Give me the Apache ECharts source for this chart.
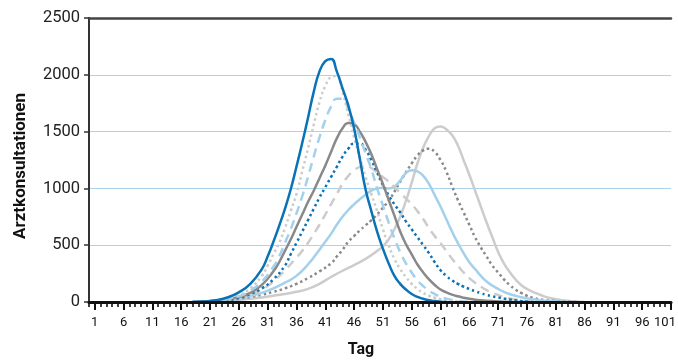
<!DOCTYPE html>
<html>
<head>
<meta charset="utf-8">
<script src="https://cdn.jsdelivr.net/npm/echarts@6/dist/echarts.min.js"></script>
<style>
  html, body { margin: 0; padding: 0; background: #fff; }
  #chart { width: 678px; height: 360px; }
</style>
</head>
<body>
<div id="chart"></div>
<script>
// Tage 0..101
const days = []
for (let d = 0; d <= 101; d++) days.push(String(d))

const yTicks = [0, 500, 1000, 1500, 2000, 2500]

// Kurven: [Tag, Arztkonsultationen]
const blueSolid = [[18,0],[20,5],[22,15],[24,40],[26,85],[28,160],[30,290],[31,400],[32,530],[33,670],[34,820],[35,990],[36,1190],[37,1400],[38,1620],[39,1850],[40,2030],[41,2120],[42,2140],[43,2030],[44,1880],[45,1730],[46,1530],[47,1260],[48,990],[49,800],[50,620],[51,470],[52,340],[53,230],[54,160],[55,110],[56,70],[57,45],[58,28],[59,15],[60,8],[61,3],[62,0]]
const grayDotted = [[18,0],[20,5],[22,15],[24,30],[26,60],[28,120],[30,230],[31,320],[32,420],[33,520],[34,650],[35,800],[36,950],[37,1150],[38,1350],[39,1560],[40,1760],[41,1900],[42,1980],[43,1990],[44,1850],[45,1650],[46,1450],[47,1270],[48,1100],[49,950],[50,800],[51,640],[52,500],[53,380],[54,290],[55,220],[56,160],[57,115],[58,80],[59,55],[60,38],[61,25],[62,15],[63,10],[64,6],[65,3],[66,0]]
const lightBlueDashed = [[18,0],[20,4],[22,12],[24,25],[26,50],[28,100],[30,180],[32,310],[33,400],[34,520],[35,640],[36,780],[37,930],[38,1100],[39,1280],[40,1450],[41,1600],[42,1720],[43,1790],[44,1790],[45,1700],[46,1580],[47,1450],[48,1310],[49,1170],[50,1000],[51,850],[52,700],[53,560],[54,440],[55,340],[56,260],[57,190],[58,140],[59,100],[60,70],[61,45],[62,30],[63,18],[64,10],[65,5],[66,0]]
const darkGraySolid = [[18,0],[20,5],[22,12],[24,25],[26,45],[28,80],[30,150],[32,270],[33,350],[34,450],[35,550],[36,660],[37,770],[38,880],[39,980],[40,1090],[41,1200],[42,1320],[43,1440],[44,1530],[45,1575],[46,1565],[47,1500],[48,1410],[49,1300],[50,1170],[51,1040],[52,900],[53,760],[54,620],[55,510],[56,420],[57,330],[58,260],[59,200],[60,150],[61,110],[62,85],[63,65],[64,50],[65,38],[66,28],[67,20],[68,15],[70,8],[72,3],[75,0]]
const blueDotted = [[18,0],[20,3],[22,8],[24,18],[26,35],[28,70],[30,120],[32,200],[34,320],[35,420],[36,520],[37,620],[38,720],[39,820],[40,920],[41,1010],[42,1100],[43,1190],[44,1280],[45,1350],[46,1395],[47,1395],[48,1340],[49,1250],[50,1140],[51,1030],[52,940],[53,860],[54,790],[55,710],[56,640],[57,570],[58,500],[59,430],[60,350],[61,280],[62,230],[63,190],[64,160],[65,135],[66,115],[67,95],[68,78],[69,62],[70,50],[71,40],[72,30],[73,22],[74,15],[75,8],[76,3],[77,0]]
const grayDashed = [[18,0],[20,3],[22,8],[24,18],[26,35],[28,65],[30,110],[32,180],[34,280],[36,390],[37,450],[38,520],[39,600],[40,680],[41,770],[42,860],[43,950],[44,1040],[45,1110],[46,1160],[47,1190],[48,1200],[49,1180],[50,1140],[51,1100],[52,1060],[53,1010],[54,960],[55,910],[56,860],[57,800],[58,730],[59,650],[60,580],[61,520],[62,450],[63,380],[64,320],[65,260],[66,210],[67,170],[68,135],[69,105],[70,80],[71,62],[72,45],[73,32],[74,22],[75,14],[76,8],[77,4],[78,0]]
const lightBlueSolid = [[18,0],[20,3],[22,8],[24,18],[26,35],[28,55],[30,80],[32,120],[34,170],[36,230],[38,330],[40,460],[41,530],[42,600],[43,680],[44,750],[45,810],[46,860],[47,905],[48,945],[49,980],[50,1000],[51,1005],[52,1000],[53,1015],[54,1070],[55,1135],[56,1160],[57,1150],[58,1110],[59,1040],[60,940],[61,840],[62,730],[63,620],[64,520],[65,430],[66,350],[67,290],[68,230],[69,180],[70,145],[71,115],[72,90],[73,70],[74,55],[75,42],[76,32],[77,24],[78,17],[79,12],[80,8],[82,3],[84,0]]
const darkGrayDotted = [[18,0],[20,2],[22,6],[24,14],[26,28],[28,45],[30,65],[32,90],[34,120],[36,160],[38,210],[40,270],[42,340],[43,400],[44,460],[45,530],[46,580],[47,630],[48,675],[49,720],[50,770],[51,830],[52,890],[53,970],[54,1060],[55,1140],[56,1220],[57,1290],[58,1335],[59,1350],[60,1320],[61,1250],[62,1150],[63,1020],[64,900],[65,790],[66,680],[67,570],[68,480],[69,400],[70,320],[71,260],[72,200],[73,150],[74,110],[75,80],[76,55],[77,38],[78,26],[79,18],[80,12],[82,5],[84,1],[85,0]]
const graySolid = [[18,0],[20,2],[22,5],[24,10],[26,18],[28,28],[30,40],[32,55],[34,70],[36,90],[38,115],[40,160],[42,220],[44,275],[46,325],[48,380],[50,450],[51,490],[52,550],[53,640],[54,750],[55,890],[56,1050],[57,1220],[58,1360],[59,1460],[60,1530],[61,1545],[62,1520],[63,1470],[64,1380],[65,1250],[66,1120],[67,980],[68,840],[69,700],[70,570],[71,440],[72,340],[73,265],[74,200],[75,150],[76,115],[77,90],[78,70],[79,50],[80,35],[81,25],[82,16],[83,10],[84,6],[85,3],[86,0]]

const DARK_BLUE = '#0a72b6'
const LIGHT_BLUE = '#a3d0ea'
const DARK_GRAY = '#898989'
const LIGHT_GRAY = '#cccccc'

function line(data, color, type) {
  let dash = 'solid'
  if (type === 'dotted') dash = [2.5, 3]
  if (type === 'dashed') dash = [9, 6]
  return {
    type: 'line',
    xAxisIndex: 0,
    data: data,
    smooth: 0.5,
    symbol: 'none',
    lineStyle: { color: color, width: 2.5, type: dash },
  }
}

const chart = echarts.init(document.getElementById('chart'))
const font = 'Roboto, "Liberation Sans", sans-serif'
const option = {
  animation: false,
  grid: { left: 89, right: 7, top: 18, bottom: 58, outerBoundsMode: 'none', containLabel: false },
  xAxis: [
    {
      type: 'category',
      data: days,
      boundaryGap: false,
      name: 'Tag',
      nameLocation: 'middle',
      nameGap: 40,
      nameTextStyle: { fontFamily: font, fontSize: 16, fontWeight: 'bold', color: '#111', padding: [0, 38, 0, 0] },
      axisLine: { lineStyle: { color: '#111', width: 3 } },
      axisTick: { interval: 0, length: 5, lineStyle: { color: '#111', width: 1.6 } },
      axisLabel: {
        interval: (i) => i % 5 === 1,
        margin: 14,
        fontFamily: font,
        fontSize: 13,
        color: '#111',
        // letzte Beschriftung etwas nach links, damit sie nicht abgeschnitten wird
        formatter: (v) => (v === days[days.length - 1] ? '{e|' + v + '}' : v),
        rich: { e: { fontFamily: font, fontSize: 13, color: '#111', padding: [0, 12, 0, 0] } },
      },
      splitLine: { show: false },
      z: 5,
    },
    {
      // lange Striche alle 5 Tage
      type: 'category',
      data: days,
      boundaryGap: false,
      position: 'bottom',
      axisLine: { show: false },
      axisTick: { interval: (i) => i % 5 === 1, length: 8, lineStyle: { color: '#111', width: 2 } },
      axisLabel: { show: false },
      splitLine: { show: false },
    },
    {
      // obere Linie
      type: 'category',
      data: days,
      boundaryGap: false,
      position: 'top',
      axisLine: { lineStyle: { color: '#444', width: 2.5 } },
      axisTick: { show: false },
      axisLabel: { show: false },
      splitLine: { show: false },
    },
  ],
  yAxis: {
    type: 'value',
    min: yTicks[0],
    max: yTicks[yTicks.length - 1],
    interval: 500,
    name: 'Arztkonsultationen',
    nameLocation: 'middle',
    nameGap: 60,
    nameTextStyle: { fontFamily: font, fontSize: 17, fontWeight: 'bold', color: '#111', padding: [0, 12, 0, 0] },
    axisLine: { show: true, lineStyle: { color: '#333', width: 2 } },
    axisTick: { show: true, length: 5, lineStyle: { color: '#333', width: 1.5 } },
    axisLabel: { margin: 9, fontFamily: font, fontSize: 16.5, color: '#222', formatter: (v) => String(v) },
    splitLine: { lineStyle: { color: '#a9d4ec', width: 1.2 } },
  },
  series: [
    line(graySolid, LIGHT_GRAY, 'solid'),
    line(darkGrayDotted, DARK_GRAY, 'dotted'),
    line(lightBlueSolid, LIGHT_BLUE, 'solid'),
    line(grayDashed, LIGHT_GRAY, 'dashed'),
    line(blueDotted, DARK_BLUE, 'dotted'),
    line(darkGraySolid, DARK_GRAY, 'solid'),
    line(lightBlueDashed, LIGHT_BLUE, 'dashed'),
    line(grayDotted, LIGHT_GRAY, 'dotted'),
    line(blueSolid, DARK_BLUE, 'solid'),
  ],
}
chart.setOption(option)
</script>
</body>
</html>
